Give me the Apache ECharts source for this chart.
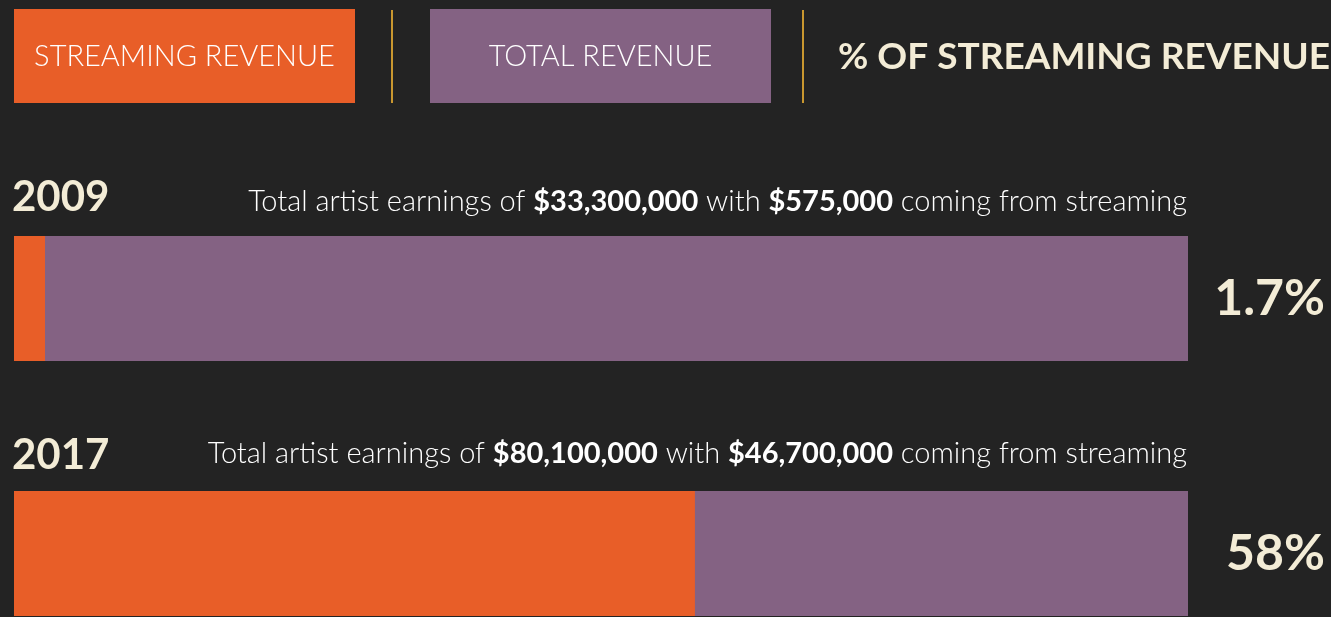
<!DOCTYPE html>
<html>
<head>
<meta charset="utf-8">
<script src="https://cdn.jsdelivr.net/npm/echarts@6/dist/echarts.min.js"></script>
<style>
  html, body { margin: 0; padding: 0; background: #232323; }
  #chart { width: 1331px; height: 617px; }
</style>
</head>
<body>
<div id="chart"></div>
<script>
  // data
  const years = ['2009', '2017']
  const totalEarnings = ['$33,300,000', '$80,100,000']
  const streamingEarnings = ['$575,000', '$46,700,000']
  const streamingShare = [1.7, 58]
  const shareLabels = ['1.7%', '58%']

  const orange = '#e85e28'
  const purple = '#846283'
  const cream = '#f3ecd6'
  const gold = '#c9972f'
  const font = 'Lato, "Noto Sans", sans-serif'

  let chart = echarts.init(document.getElementById('chart'))

  let grids = []
  let xAxes = []
  let yAxes = []
  let series = []
  let graphics = []

  // legend-like header
  graphics.push(
    { type: 'rect', shape: { x: 14, y: 9, width: 341, height: 94 }, style: { fill: orange } },
    { type: 'text', x: 184.5, y: 57, style: { text: 'STREAMING REVENUE', fill: '#fff', font: '300 29px ' + font, align: 'center', verticalAlign: 'middle' } },
    { type: 'rect', shape: { x: 391, y: 10, width: 2, height: 93 }, style: { fill: gold } },
    { type: 'rect', shape: { x: 430, y: 9, width: 341, height: 94 }, style: { fill: purple } },
    { type: 'text', x: 600.5, y: 57, style: { text: 'TOTAL REVENUE', fill: '#fff', font: '300 29px ' + font, align: 'center', verticalAlign: 'middle' } },
    { type: 'rect', shape: { x: 802, y: 10, width: 2, height: 93 }, style: { fill: gold } },
    { type: 'text', x: 838, y: 57, style: { text: '% OF STREAMING REVENUE', fill: cream, font: 'bold 37px ' + font, align: 'left', verticalAlign: 'middle' } }
  )

  const barTops = [236, 491]
  const yearY = [197, 455]
  const subtitleY = [202, 454]
  years.forEach((yr, idx) => {
    grids.push({ left: 14, top: barTops[idx], width: 1174, height: 125 })
    xAxes.push({ gridIndex: idx, type: 'value', min: 0, max: 100, show: false })
    yAxes.push({ gridIndex: idx, type: 'category', data: [yr], show: false })
    series.push({
      name: 'Total revenue',
      type: 'bar',
      xAxisIndex: idx,
      yAxisIndex: idx,
      barWidth: '100%',
      silent: true,
      itemStyle: { color: purple },
      data: [100]
    })
    series.push({
      name: 'Streaming revenue',
      type: 'bar',
      xAxisIndex: idx,
      yAxisIndex: idx,
      barWidth: '100%',
      barGap: '-100%',
      barMinHeight: 31,
      silent: true,
      itemStyle: { color: orange },
      label: {
        show: true,
        position: [1311, '50%'],
        formatter: shareLabels[idx],
        color: cream,
        fontFamily: font,
        fontWeight: 'bold',
        fontSize: 50,
        align: 'right',
        verticalAlign: 'middle'
      },
      data: [streamingShare[idx]]
    })

    graphics.push(
      { type: 'text', x: 12, y: yearY[idx], style: { text: yr, fill: cream, font: 'bold 42px ' + font, align: 'left', verticalAlign: 'middle' } },
      {
        type: 'text', x: 1187, y: subtitleY[idx],
        style: {
          text: 'Total artist earnings of {b|' + totalEarnings[idx] + '} with {b|' + streamingEarnings[idx] + '} coming from streaming',
          fill: '#fff',
          font: '300 29px ' + font,
          align: 'right',
          verticalAlign: 'middle',
          rich: {
            b: { fontWeight: 'bold', fontSize: 29, fontFamily: font, fill: '#fff' }
          }
        }
      }
    )
  })

  let option = {
    backgroundColor: '#232323',
    animation: false,
    grid: grids,
    xAxis: xAxes,
    yAxis: yAxes,
    series: series,
    graphic: graphics
  }
  chart.setOption(option)
</script>
</body>
</html>
